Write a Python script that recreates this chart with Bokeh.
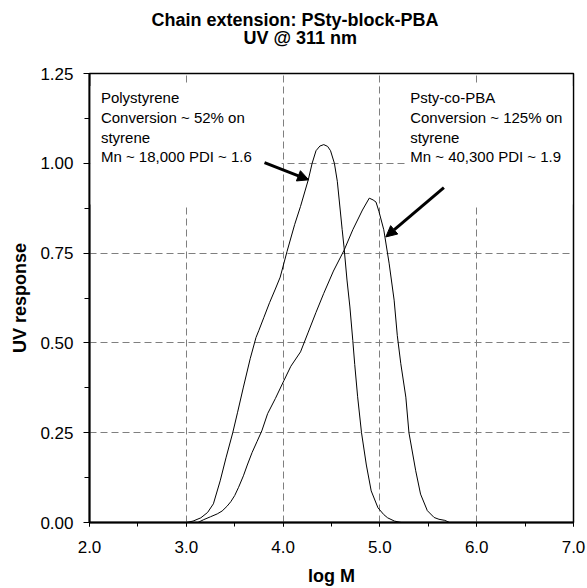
from bokeh.plotting import figure
from bokeh.models import (Range1d, Label, Title, BoxAnnotation, Arrow, NormalHead,
                          PrintfTickFormatter, SingleIntervalTicker, ColumnDataSource)
from bokeh.embed import file_html
from bokeh.resources import INLINE

# GPC trace, polystyrene macro-initiator (UV @ 311 nm)
ps_logm = [3.00, 3.07, 3.15, 3.22, 3.28, 3.35, 3.41, 3.48, 3.53, 3.59, 3.66, 3.72,
           3.75, 3.80, 3.86, 3.92, 3.97, 4.04, 4.12, 4.18, 4.26, 4.30, 4.34, 4.38,
           4.42, 4.46, 4.49, 4.53, 4.56, 4.59, 4.61, 4.63, 4.66, 4.69, 4.72, 4.74,
           4.77, 4.81, 4.86, 4.91, 4.98, 5.04, 5.08, 5.15, 5.22]
ps_uv = [0.000, 0.004, 0.013, 0.028, 0.052, 0.116, 0.180, 0.250, 0.307, 0.377, 0.456, 0.515,
         0.535, 0.570, 0.612, 0.650, 0.683, 0.754, 0.830, 0.880, 0.954, 1.000, 1.035, 1.048,
         1.052, 1.047, 1.035, 1.000, 0.950, 0.870, 0.816, 0.765, 0.675, 0.600, 0.507, 0.440,
         0.350, 0.250, 0.160, 0.088, 0.041, 0.022, 0.013, 0.004, 0.000]

# GPC trace after chain extension with butyl acrylate
pba_logm = [3.12, 3.18, 3.25, 3.32, 3.37, 3.42, 3.46, 3.50, 3.54, 3.59, 3.63, 3.68,
            3.73, 3.78, 3.84, 3.92, 4.01, 4.08, 4.18, 4.26, 4.34, 4.42, 4.52, 4.63,
            4.72, 4.82, 4.89, 4.93, 4.96, 4.99, 5.04, 5.095, 5.147, 5.18, 5.216, 5.268,
            5.30, 5.37, 5.42, 5.49, 5.56, 5.61, 5.67, 5.72]
pba_uv = [0.000, 0.008, 0.016, 0.024, 0.032, 0.045, 0.058, 0.075, 0.098, 0.130, 0.160, 0.195,
          0.225, 0.255, 0.303, 0.345, 0.396, 0.435, 0.475, 0.530, 0.585, 0.638, 0.700, 0.758,
          0.815, 0.870, 0.903, 0.898, 0.892, 0.866, 0.815, 0.722, 0.619, 0.520, 0.442, 0.349,
          0.250, 0.144, 0.079, 0.033, 0.014, 0.009, 0.006, 0.000]

ps_notes = ["Polystyrene", "Conversion ~ 52% on", "styrene", "Mn ~ 18,000 PDI ~ 1.6"]
pba_notes = ["Psty-co-PBA", "Conversion ~ 125% on", "styrene", "Mn ~ 40,300 PDI ~ 1.9"]

FONT = "Liberation Sans"

p = figure(width=587, height=588, x_range=Range1d(2, 7), y_range=Range1d(0, 1.25),
           output_backend="svg", toolbar_location=None, title=None,
           min_border_left=89, min_border_right=14, min_border_top=73, min_border_bottom=66)
p.background_fill_color = "white"
p.border_fill_color = "white"
p.outline_line_color = "black"
p.outline_line_width = 1.5

# two-line heading, lifted off the frame by an empty spacer
spacer = Title(text=" ", text_font_size="1px", standoff=23)
t2 = Title(text="UV @ 311 nm", align="left", offset=154, text_font=FONT,
           text_font_size="18px", text_font_style="bold", text_color="black", standoff=0)
t1 = Title(text="Chain extension:  PSty-block-PBA", align="left", offset=62, text_font=FONT,
           text_font_size="18px", text_font_style="bold", text_color="black", standoff=-8)
p.add_layout(spacer, "above")
p.add_layout(t2, "above")
p.add_layout(t1, "above")

# axes
p.xaxis.ticker = SingleIntervalTicker(interval=1, num_minor_ticks=2)
p.yaxis.ticker = SingleIntervalTicker(interval=0.25, num_minor_ticks=2)
p.xaxis.formatter = PrintfTickFormatter(format="%.1f")
p.yaxis.formatter = PrintfTickFormatter(format="%.2f")
p.xaxis.axis_label = "log M"
p.yaxis.axis_label = "UV response"
for ax in (p.xaxis, p.yaxis):
    ax.axis_line_color = "black"
    ax.axis_line_width = 2
    ax.major_tick_line_color = "black"
    ax.minor_tick_line_color = "black"
    ax.major_tick_in = 0
    ax.minor_tick_in = 0
    ax.major_label_text_font = FONT
    ax.major_label_text_font_size = "17px"
    ax.major_label_text_color = "black"
    ax.axis_label_text_font = FONT
    ax.axis_label_text_font_size = "18px"
    ax.axis_label_text_font_style = "bold"
    ax.axis_label_text_color = "black"
p.xaxis.major_tick_out = 4
p.xaxis.minor_tick_out = 4
p.xaxis.major_label_standoff = 14
p.xaxis.axis_label_standoff = 10
p.yaxis.major_tick_out = 6
p.yaxis.minor_tick_out = 5
p.yaxis.major_label_standoff = 10
p.yaxis.axis_label_standoff = 7

# dashed grid
for g in (p.xgrid, p.ygrid):
    g.grid_line_color = "#7f7f7f"
    g.grid_line_dash = "7 4"
    g.grid_line_width = 1

# traces
ps_src = ColumnDataSource(dict(logm=ps_logm, uv=ps_uv))
pba_src = ColumnDataSource(dict(logm=pba_logm, uv=pba_uv))
p.line("logm", "uv", source=ps_src, line_color="black", line_width=1)
p.line("logm", "uv", source=pba_src, line_color="black", line_width=1)

# white note panels
p.add_layout(BoxAnnotation(left=2.012, right=3.985, bottom=0.885, top=1.215,
                           fill_color="white", fill_alpha=1, line_color=None))
p.add_layout(BoxAnnotation(left=5.27, right=6.988, bottom=0.885, top=1.215,
                           fill_color="white", fill_alpha=1, line_color=None))

note_y = [1.1827, 1.1268, 1.0732, 1.0196]
for x0, lines in ((2.118, ps_notes), (5.313, pba_notes)):
    for yy, txt in zip(note_y, lines):
        p.add_layout(Label(x=x0, y=yy, text=txt, text_font=FONT, text_font_size="15px",
                           text_color="black", text_baseline="alphabetic"))

# pointers to each trace
for xs, ys, xe, ye in ((3.808, 1.002, 4.264, 0.954), (5.661, 0.932, 5.061, 0.795)):
    p.add_layout(Arrow(end=NormalHead(size=11, fill_color="black", line_color="black"),
                       x_start=xs, y_start=ys, x_end=xe, y_end=ye,
                       line_color="black", line_width=3))

open("out.html", "w").write(file_html(p, INLINE))
